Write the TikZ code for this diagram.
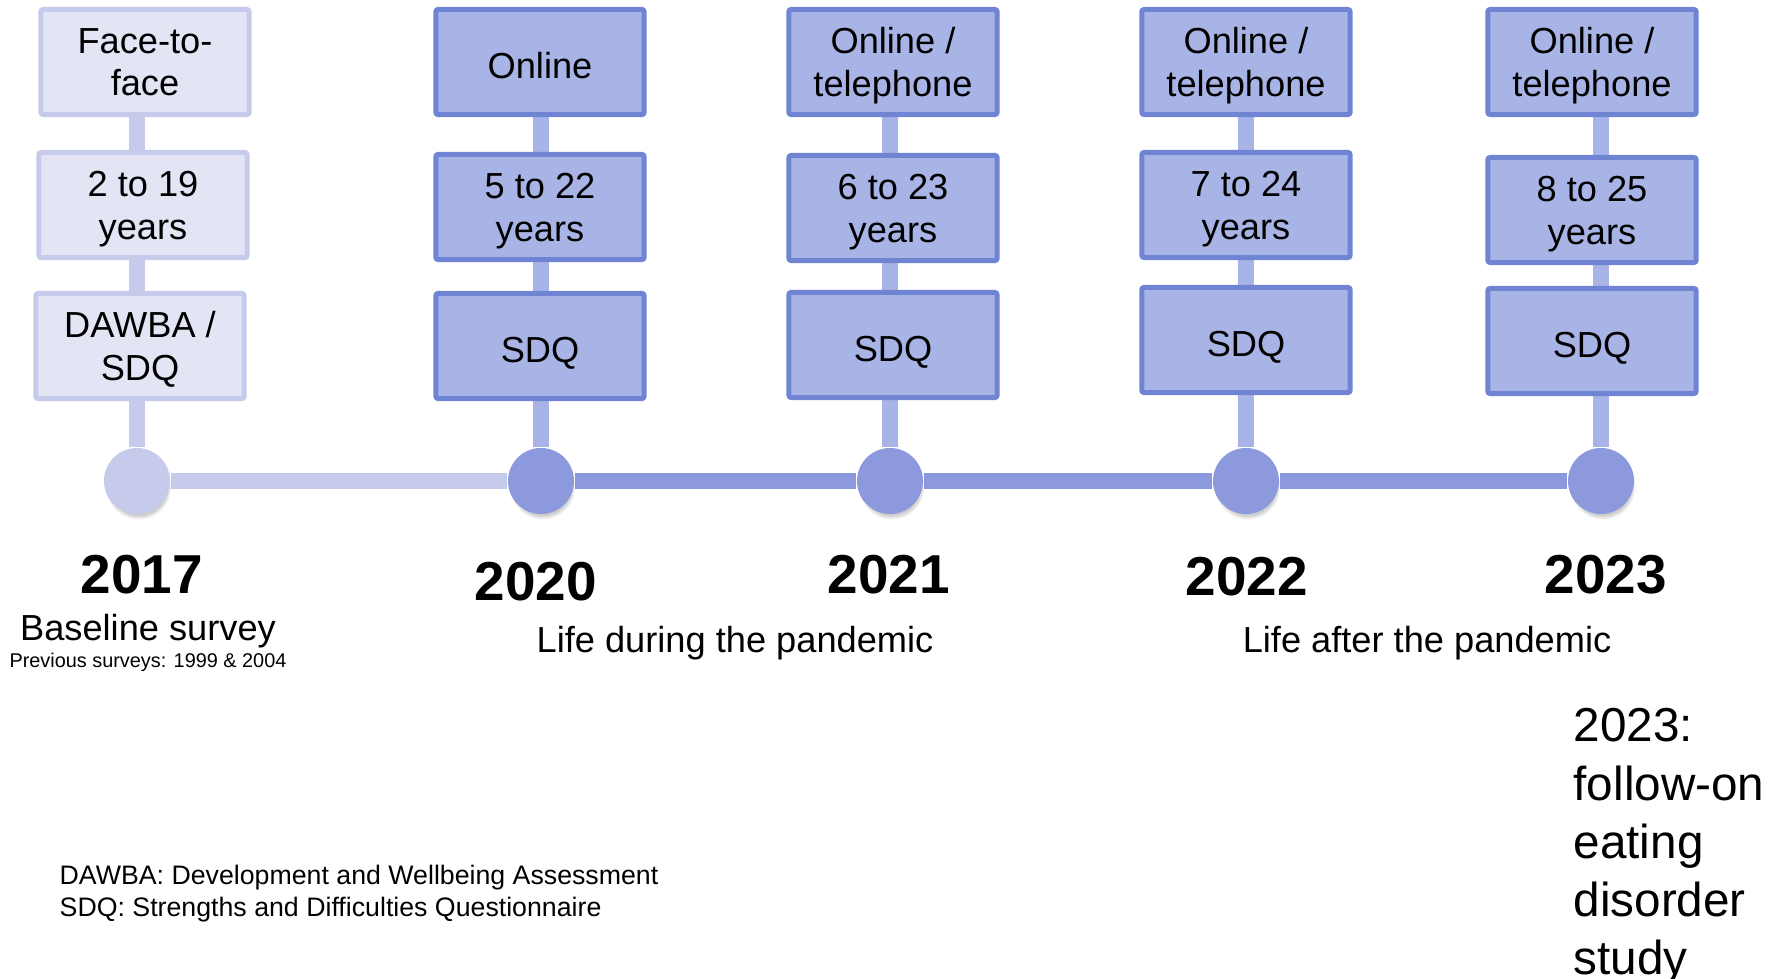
\documentclass[tikz,border=0pt]{standalone}
\usepackage{fontspec}
\setmainfont{Liberation Sans}
\usepackage{xcolor}
\usepackage{tikz}
\usetikzlibrary{shadows, fadings, backgrounds}
\definecolor{paleFill}{HTML}{E3E5F5}
\definecolor{paleLine}{HTML}{C6CBEC}
\definecolor{boxFill}{HTML}{A9B4E6}
\definecolor{boxLine}{HTML}{7084D4}
\definecolor{dotFill}{HTML}{8C99DD}

\tikzset{
    stage/.style={draw=boxLine, fill=boxFill, line width=1.42pt, rounded corners=0.6pt,
        minimum width=2.08cm, minimum height=1.05cm, inner sep=0pt, align=center, text depth=0pt,
        font=\fontsize{10.3}{12.2}\selectfont, execute at begin node={\rule{0pt}{9.4pt}}},
    pale/.style={draw=paleLine, fill=paleFill},
    dot/.style={circle, fill=dotFill, minimum size=0.66cm, inner sep=0pt,
        circular drop shadow={shadow xshift=0.4pt, shadow yshift=-1.6pt, shadow scale=1.0, opacity=0.4}},
    spine/.style={line width=4.5pt, dotFill},
    stem/.style={line width=4.3pt, boxFill},
    yr/.style={anchor=base, inner sep=0pt, font=\fontsize{15.6}{18}\selectfont\bfseries},
    note/.style={anchor=base, inner sep=0pt, font=\fontsize{10.3}{12}\selectfont},
    gloss/.style={anchor=base west, inner sep=0pt, font=\fontsize{7.6}{9}\selectfont},
}

\begin{document}
\begin{tikzpicture}[x=0.01cm, y=-0.01cm]
    \useasboundingbox (0,0) rectangle (1781,979);

    \node[dot, fill=paleLine] (d2017) at (137,481) {};
    \foreach \yr/\x in {2020/541, 2021/890, 2022/1246, 2023/1601}
        \node[dot] (d\yr) at (\x,481) {};

    \node[stage, pale] (m2017) at (145,62) {Face-to-\\face};
    \node[stage, pale] (a2017) at (143,205) {2 to 19\\years};
    \node[stage, pale] (q2017) at (140,346) {DAWBA /\\SDQ};
    \foreach \yr/\x/\ya/\yq/\mode/\age in {2020/540/207/346/{Online}/{5 to 22},
            2021/893/208/345/{Online /\\telephone}/{6 to 23},
            2022/1246/205/340/{Online /\\telephone}/{7 to 24},
            2023/1592/210/341/{Online /\\telephone}/{8 to 25}} {
        \node[stage] (m\yr) at (\x,62) {\mode};
        \node[stage] (a\yr) at (\x,\ya) {\age\\years};
        \node[stage] (q\yr) at (\x,\yq) {SDQ};
    }

    \begin{scope}[on background layer]
        \draw[spine, paleLine] (d2017) -- (d2020);
        \draw[spine] (d2020) -- (d2021) -- (d2022) -- (d2023);
        \draw[stem, paleLine] (d2017) -- (d2017 |- m2017);
        \foreach \yr in {2020,...,2023}
            \draw[stem] (d\yr) -- (d\yr |- m\yr);
    \end{scope}

    \foreach \yr/\x/\y in {2017/142/593, 2020/536/600, 2021/889/593, 2022/1247/595, 2023/1606/593}
        \node[yr] (y\yr) at (\x,\y) {\yr};

    \node[note] (baseline) at (148,640) {Baseline survey};
    \node[note, font=\fontsize{5.65}{7}\selectfont] (previous) at (148,667) {Previous surveys: 1999 \& 2004};
    \node[note] (during) at (735,652) {Life during the pandemic};
    \node[note] (after) at (1427,652) {Life after the pandemic};

    \node[gloss] (dawba) at (59,884) {DAWBA: Development and Wellbeing Assessment};
    \node[gloss] (sdq) at (59,916) {SDQ: Strengths and Difficulties Questionnaire};

    \node[anchor=north west, align=left, inner sep=0pt, font=\fontsize{13.55}{16.5}\selectfont]
        (followon) at (1573,708) {2023:\\follow-on\\eating\\disorder\\study};
\end{tikzpicture}
\end{document}
